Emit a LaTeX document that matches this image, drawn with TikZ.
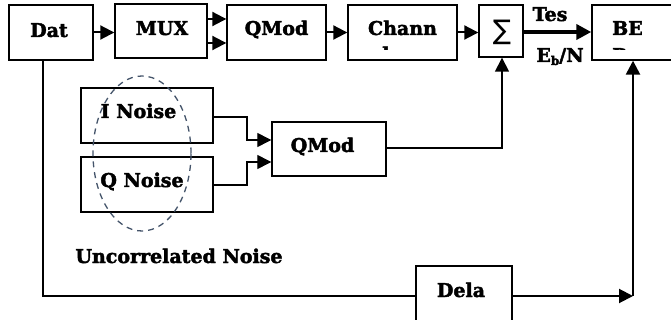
\documentclass[tikz,border=0pt]{standalone}
\usepackage{fontspec}
\setmainfont{DejaVu Serif}[BoldFeatures={FakeBold=2.2}]
\newfontfamily\symfont{DejaVu Sans}
\usetikzlibrary{arrows.meta}
\definecolor{ellcol}{HTML}{44546A}
\begin{document}
\begin{tikzpicture}[x=1pt,y=-1pt,
  box/.style={draw,line width=1.4pt,fill=white,inner sep=0pt},
  lbl/.style={font=\fontsize{19}{21}\bfseries\selectfont,inner sep=0pt,anchor=base},
  arr/.style={line width=2pt,-{Triangle[length=14pt,width=14pt]}},
  thinarr/.style={line width=1.3pt,-{Triangle[length=14pt,width=14pt]}},
]
\useasboundingbox (0,0) rectangle (671,320);
\fill[white] (0,0) rectangle (671,320);

% top row boxes
\node[box,minimum width=84pt,minimum height=55pt] (dat) at (51,32.5) {};
\node[box,minimum width=92pt,minimum height=54pt] (mux) at (161,31) {};
\node[box,minimum width=99pt,minimum height=55pt] (qma) at (276.5,32.5) {};
\node[box,minimum width=109pt,minimum height=55pt] (chan) at (402.5,32.5) {};
\node[box,minimum width=44pt,minimum height=52pt] (sum) at (501,31) {};
\node[box,minimum width=88pt,minimum height=55pt] (ber) at (636,32.5) {};

% lower boxes
\node[box,minimum width=132pt,minimum height=55pt] (inoise) at (147,115.5) {};
\node[box,minimum width=132pt,minimum height=55pt] (qnoise) at (147,184.5) {};
\node[box,minimum width=114pt,minimum height=54pt] (qmb) at (329,149) {};
\node[box,minimum width=96pt,minimum height=60pt] (dela) at (464,296) {};

% labels
\node[lbl] (datl) at (49,37) {Dat};
\node[lbl] (muxl) at (162,35) {MUX};
\node[lbl] (qmal) at (276.5,35) {QMod};
\node[lbl] (chanl) at (402.5,35) {Chann};
\begin{scope}
  \clip (350,40) rectangle (455,50);
  \node[lbl,anchor=base west] (chanl2) at (370,61) {el};
\end{scope}
\node[inner sep=0pt,font=\symfont\fontsize{27}{27}\selectfont] (suml) at (502,32) {∑};
\node[lbl,anchor=base west] (berl) at (612,35) {BE};
\begin{scope}
  \clip (600,40) rectangle (660,49.5);
  \node[lbl,anchor=base west] (berl2) at (612,62) {R};
\end{scope}
\node[lbl] (iln) at (138.5,118) {I Noise};
\node[lbl] (qln) at (142,187) {Q Noise};
\node[lbl] (qmbl) at (322.5,152) {QMod};
\node[lbl] (delal) at (461,297) {Dela};
\node[lbl] (uncl) at (179,263) {Uncorrelated Noise};
\node[lbl] (tesl) at (550,21) {Tes};
\node[lbl] (ebl) at (560,62) {E\raisebox{-3pt}{\fontsize{12}{12}\selectfont b}/N};

% connectors top row
\draw[arr] (dat.east) -- (mux.west |- dat.east);
\draw[arr] (mux.east |- 0,19) -- (qma.west |- 0,19);
\draw[arr] (mux.east |- 0,43) -- (qma.west |- 0,43);
\draw[arr] (qma.east) -- (chan.west);
\draw[arr] (chan.east) -- (sum.west |- chan.east);
\draw[line width=4pt,-{Triangle[length=15pt,width=15pt]}] (sum.east |- 0,32) -- (ber.west |- 0,32);

% noise to QMod
\coordinate (ia) at (247,117);
\coordinate (qa) at (247,185);
\draw[thinarr] (inoise.east |- ia) -- (ia) -- (247,140) -- (qmb.west |- 0,140);
\draw[thinarr] (qnoise.east |- qa) -- (qa) -- (247,162) -- (qmb.west |- 0,162);

% QMod to sum
\coordinate (qs) at (502,148);
\draw[line width=1.5pt,-{Triangle[length=14pt,width=14pt]}] (qmb.east |- qs) -- (qs) -- (sum.south -| qs);

% data to delay
\coordinate (dd) at (43,296);
\draw[line width=1.5pt] (dat.south -| dd) -- (dd) -- (dela.west |- dd);
\coordinate (bc) at (633,296);
\draw[arr] (dela.east |- bc) -- (bc);
\draw[line width=2.5pt,-{Triangle[length=14pt,width=14pt]}] (bc) -- (ber.south -| bc);

% ellipse
\draw[ellcol,line width=1.3pt,dash pattern=on 6pt off 5pt] (142,153.5) ellipse [x radius=49pt,y radius=77.5pt];
\end{tikzpicture}
\end{document}
